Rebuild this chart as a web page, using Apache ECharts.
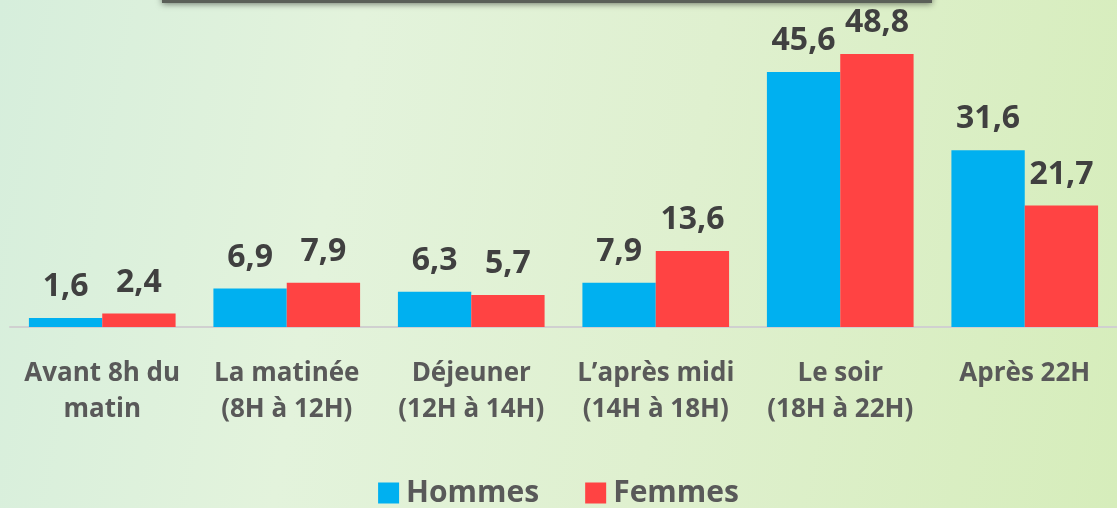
<!DOCTYPE html>
<html><head><meta charset="utf-8">
<script src="https://cdn.jsdelivr.net/npm/echarts@6/dist/echarts.min.js"></script>
<style>
html,body{margin:0;padding:0;}
#c{width:1117px;height:508px;background:linear-gradient(100deg,#d6eedc 0%,#e3f3dc 30%,#dff0cf 60%,#d6edbb 100%);}
</style></head><body>
<div id="c"></div>
<script>
const categories = ["Avant 8h du\nmatin","La matinée\n(8H à 12H)","Déjeuner\n(12H à 14H)","L’après midi\n(14H à 18H)","Le soir\n(18H à 22H)","Après 22H"];
const hommes = [1.6, 6.9, 6.3, 7.9, 45.6, 31.6];
const femmes = [2.4, 7.9, 5.7, 13.6, 48.8, 21.7];
const chart = echarts.init(document.getElementById('c'), null, {renderer:'canvas'});
const lbl = {show:true, position:'top', distance:15, fontFamily:'Open Sans', fontWeight:'bold', fontSize:32, color:'#404040',
  formatter: p => String(p.value).replace('.', ',')};
chart.setOption({
  animation:false,
  grid:{left:10, width:1110, top:47.3, bottom:181, containLabel:false},
  graphic:[{type:'rect', shape:{x:162, y:-10, width:770, height:13}, style:{fill:'#5a5f58', shadowBlur:6, shadowColor:'rgba(0,0,0,0.5)', shadowOffsetY:1}}],
  legend:{bottom:-5, left:'center', itemWidth:21, itemHeight:21, itemGap:46, icon:'rect',
    textStyle:{fontFamily:'Open Sans', fontWeight:'bold', fontSize:30, color:'#595959', padding:[0,0,0,2]}},
  xAxis:{type:'category', data:categories,
    axisLine:{lineStyle:{color:'#d0d0d0', width:2}}, axisTick:{show:false},
    axisLabel:{interval:0, margin:29, fontFamily:'Open Sans', fontWeight:'bold', fontSize:26, lineHeight:36, color:'#595959'}},
  yAxis:{type:'value', min:0, max:50, show:false, splitLine:{show:false}},
  series:[
    {name:'Hommes', type:'bar', data:hommes, barGap:'0%', barCategoryGap:'20.5%', itemStyle:{color:'#00B0F0'}, label:lbl},
    {name:'Femmes', type:'bar', data:femmes, itemStyle:{color:'#FF4343'}, label:lbl}
  ]
});
</script>
</body></html>
